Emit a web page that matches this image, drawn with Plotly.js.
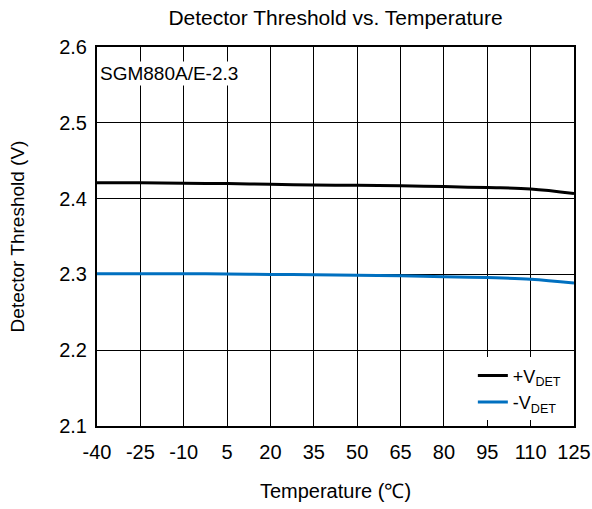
<!DOCTYPE html>
<html>
<head>
<meta charset="utf-8">
<script src="https://cdn.plot.ly/plotly-3.0.1.min.js"></script>
<style>html,body{margin:0;padding:0;background:#fff;}#chart{width:592px;height:509px;}</style>
</head>
<body>
<div id="chart"></div>
<script>
const temperatures = [-40, -25, -10, 5, 20, 35, 50, 65, 80, 95, 110, 125];
const vdetPlus  = [2.421, 2.4208, 2.4203, 2.4198, 2.4188, 2.418, 2.4175, 2.4168, 2.4158, 2.4145, 2.4128, 2.4068];
const vdetMinus = [2.301, 2.3009, 2.3008, 2.3006, 2.3, 2.2995, 2.299, 2.2982, 2.297, 2.2958, 2.2937, 2.2885];
const seriesNames = ['+V<sub>DET</sub>', '-V<sub>DET</sub>'];
const xTicks = [-40, -25, -10, 5, 20, 35, 50, 65, 80, 95, 110, 125];
const yTicks = [2.1, 2.2, 2.3, 2.4, 2.5, 2.6];
const deviceLabel = 'SGM880A/E-2.3';

const font = 'Arial, "Liberation Sans", sans-serif';
const traces = [
  {x: temperatures, y: vdetPlus, name: seriesNames[0], mode: 'lines', line: {color: '#000000', width: 3, shape: 'spline'}},
  {x: temperatures, y: vdetMinus, name: seriesNames[1], mode: 'lines', line: {color: '#0070C0', width: 3, shape: 'spline'}}
];
const layout = {
  width: 592, height: 509,
  margin: {l: 97, r: 18, t: 47, b: 83},
  paper_bgcolor: '#fff', plot_bgcolor: '#fff',
  font: {family: font, color: '#000', size: 20},
  title: {text: 'Detector Threshold vs. Temperature', font: {family: font, size: 21, color: '#000'}, x: 0.5, xanchor: 'center', xref: 'paper', yref: 'container', y: 0.966, yanchor: 'middle'},
  xaxis: {
    range: [-40, 125], tickvals: xTicks, ticktext: xTicks.map(String),
    showgrid: true, gridcolor: '#000', gridwidth: 1,
    showline: true, linecolor: '#000', linewidth: 2, mirror: true,
    ticks: '', zeroline: false, tickfont: {size: 20}, ticklabelstandoff: 7,
    title: {text: 'Temperature (℃)', font: {size: 20}, standoff: 22}
  },
  yaxis: {
    range: [2.1, 2.6], tickvals: yTicks, ticktext: yTicks.map(v => v.toFixed(1)),
    showgrid: true, gridcolor: '#000', gridwidth: 1,
    showline: true, linecolor: '#000', linewidth: 2, mirror: true,
    ticks: '', zeroline: false, tickfont: {size: 20}, ticklabelstandoff: 4,
    title: {text: 'Detector Threshold (V)', font: {size: 19}, standoff: 30}
  },
  showlegend: true,
  legend: {x: 0.985, xanchor: 'right', y: 0.015, yanchor: 'bottom', bgcolor: '#fff', borderwidth: 0, font: {size: 18}, tracegroupgap: 10},
  annotations: [{
    text: deviceLabel, xref: 'paper', yref: 'paper', x: 0.003, y: 0.962, xanchor: 'left', yanchor: 'top',
    showarrow: false, bgcolor: '#fff', font: {size: 19}, borderpad: 1
  }]
};
Plotly.newPlot('chart', traces, layout, {staticPlot: true, displayModeBar: false});
</script>
</body>
</html>
